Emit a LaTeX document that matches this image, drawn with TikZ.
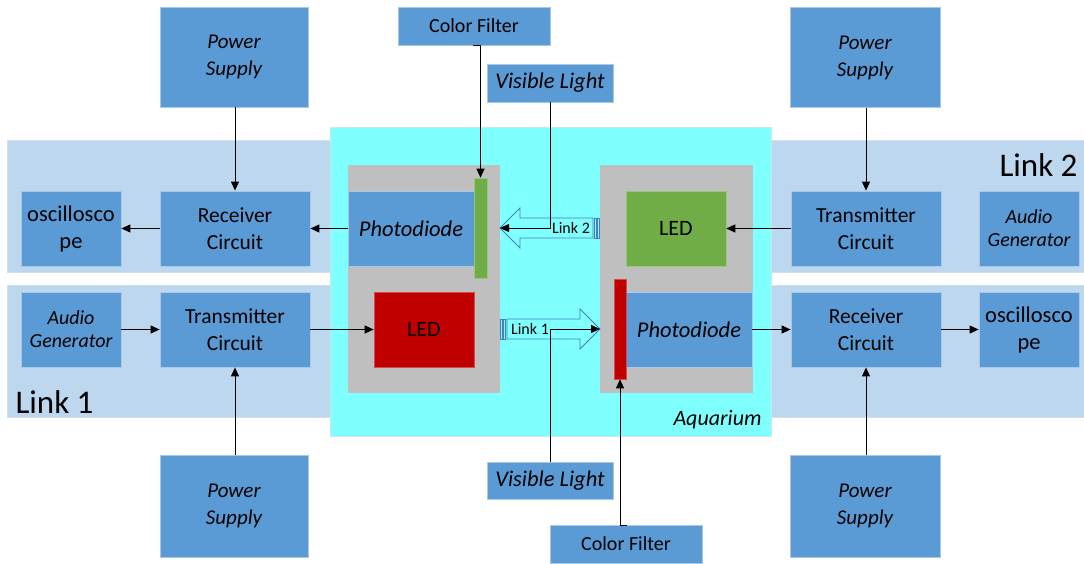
\documentclass[tikz,border=0pt]{standalone}
\usepackage{fontspec}
\setmainfont{Carlito}
\usetikzlibrary{arrows.meta}
\definecolor{cblue}{HTML}{5B9BD5}
\definecolor{cbord}{HTML}{A9C8E8}
\definecolor{cband}{HTML}{BDD7EE}
\definecolor{cbandb}{HTML}{D6E0EA}
\definecolor{caqua}{HTML}{80FFFF}
\definecolor{caquab}{HTML}{C8E8EE}
\definecolor{cgrey}{HTML}{BFBFBF}
\definecolor{cgreen}{HTML}{70AD47}
\definecolor{cred}{HTML}{C00000}
\definecolor{carrow}{HTML}{4A7EBB}
\begin{document}
\begin{tikzpicture}[x=1pt,y=-1pt,
  bbox/.style={fill=cblue, draw=cbord, line width=0.8pt, inner sep=0pt, align=center, text=black},
  band/.style={fill=cband, draw=cbandb, line width=0.8pt, inner sep=0pt},
  conn/.style={draw=black, line width=1pt, -{Triangle[length=9pt,width=8pt]}},
  hollow/.style={fill=caqua, draw=carrow, line width=0.8pt},
  fps/.style={font=\fontsize{21}{27}\selectfont\itshape},
  fcirc/.style={font=\fontsize{21.5}{26.5}\selectfont},
  fosc/.style={font=\fontsize{22.5}{27}\selectfont},
  fag/.style={font=\fontsize{20}{23}\selectfont\itshape},
  fcf/.style={font=\fontsize{20}{22}\selectfont},
  fvl/.style={font=\fontsize{22.5}{24}\selectfont\itshape},
  fpd/.style={font=\fontsize{22.5}{24}\selectfont\itshape},
  fled/.style={font=\fontsize{22}{24}\selectfont}
]
\useasboundingbox (0,0) rectangle (1084,563);
\fill[white] (0,0) rectangle (1084,563);

% bands
\node[band, minimum width=1080, minimum height=132, anchor=north west] (band2) at (7,140) {};
\node[band, minimum width=1080, minimum height=132, anchor=north west] (band1) at (7,285) {};
\node[anchor=base east, font=\fontsize{33}{36}\selectfont] (lab2) at (1081,176) {Link 2};
\node[anchor=base west, font=\fontsize{33}{36}\selectfont] (lab1) at (12,413) {Link 1};

% aquarium
\node[fill=caqua, draw=caquab, line width=0.8pt, minimum width=441, minimum height=309, anchor=north west, inner sep=0pt] (aq) at (330,127) {};
\node[anchor=base east, font=\fontsize{22}{24}\selectfont\itshape] (aqlab) at (765,425) {Aquarium};

% grey boxes
\node[fill=cgrey, draw=none, minimum width=152, minimum height=228, anchor=north west, inner sep=0pt] (greyL) at (348,165) {};
\node[fill=cgrey, draw=none, minimum width=153, minimum height=228, anchor=north west, inner sep=0pt] (greyR) at (600,165) {};

% inner boxes
\node[bbox, fpd, minimum width=126, minimum height=75] (pdL) at (411,228.5) {Photodiode};
\node[fill=cgreen, draw=cgreen!70!white, line width=0.6pt, minimum width=13, minimum height=100, inner sep=0pt] (gbar) at (480.5,228) {};
\node[fill=cred, draw=cred!70!white, line width=0.6pt, fled, minimum width=100, minimum height=75, inner sep=0pt] (ledL) at (424,329.5) {LED};
\node[fill=cgreen, draw=cgreen!70!white, line width=0.6pt, fled, minimum width=100, minimum height=75, inner sep=0pt] (ledR) at (676,228.5) {LED};
\node[bbox, fpd, minimum width=126, minimum height=75] (pdR) at (689,329.5) {Photodiode};
\node[fill=cred, draw=cred!70!white, line width=0.6pt, minimum width=12, minimum height=100, inner sep=0pt] (rbar) at (620,329) {};

% hollow arrows
\coordinate (l2tip) at (500,228);
\draw[hollow] (l2tip) -- (520,208) -- (520,218) -- (593,218) -- (593,238) -- (520,238) -- (520,248) -- cycle;
\draw[hollow] (594.5,218) rectangle (596.5,238);
\draw[hollow] (597.5,218) rectangle (599.5,238);
\node[font=\fontsize{16}{18}\selectfont] (l2txt) at (571,228) {Link 2};

\coordinate (l1tip) at (600,329);
\draw[hollow] (l1tip) -- (580,309) -- (580,319) -- (507,319) -- (507,339) -- (580,339) -- (580,349) -- cycle;
\draw[hollow] (500.5,319) rectangle (502.5,339);
\draw[hollow] (503.5,319) rectangle (505.5,339);
\node[font=\fontsize{16}{18}\selectfont] (l1txt) at (530,329) {Link 1};

% left outer blocks
\node[bbox, fps, minimum width=148, minimum height=100] (psTL) at (234,57) {Power\\Supply};
\node[bbox, fcirc, minimum width=150, minimum height=75] (rcL) at (235,228.5) {Receiver\\Circuit};
\node[bbox, fosc, minimum width=100, minimum height=75] (oscL) at (71,228.5) {oscillosco\\pe};
\node[bbox, fag, minimum width=100, minimum height=75] (agL) at (71,329.5) {Audio\\Generator};
\node[bbox, fcirc, minimum width=150, minimum height=75] (tcL) at (235,329.5) {Transmitter\\Circuit};
\node[bbox, fps, minimum width=148, minimum height=102] (psBL) at (234,506) {Power\\Supply};

% right outer blocks
\node[bbox, fps, minimum width=150, minimum height=100] (psTR) at (865,57.5) {Power\\Supply};
\node[bbox, fcirc, minimum width=150, minimum height=75] (tcR) at (866,228.5) {Transmitter\\Circuit};
\node[bbox, fag, minimum width=100, minimum height=75] (agR) at (1029,228.5) {Audio\\Generator};
\node[bbox, fcirc, minimum width=150, minimum height=75] (rcR) at (866,329.5) {Receiver\\Circuit};
\node[bbox, fosc, minimum width=100, minimum height=75] (oscR) at (1029,329.5) {oscillosco\\pe};
\node[bbox, fps, minimum width=150, minimum height=102] (psBR) at (865,506) {Power\\Supply};

% top / bottom filter and light boxes
\node[bbox, fcf, minimum width=152, minimum height=38] (cfT) at (474,26) {Color Filter};
\node[bbox, fvl, minimum width=126, minimum height=38] (vlT) at (550,83) {Visible Light};
\node[bbox, fvl, minimum width=126, minimum height=37] (vlB) at (550,480.5) {Visible Light};
\node[bbox, fcf, minimum width=152, minimum height=38] (cfB) at (626,544) {Color Filter};

% connectors left
\draw[conn] (psTL.south -| rcL.north) -- (rcL.north);
\draw[conn] (rcL.west) -- (oscL.east);
\draw[conn] (pdL.west) -- (rcL.east);
\draw[conn] (agL.east) -- (tcL.west);
\draw[conn] (tcL.east) -- (ledL.west);
\draw[conn] (psBL.north -| tcL.south) -- (tcL.south);

% connectors right
\draw[conn] (psTR.south -| tcR.north) -- (tcR.north);
\draw[conn] (tcR.west) -- (ledR.east);
\draw[conn] (pdR.east) -- (rcR.west);
\draw[conn] (rcR.east) -- (oscR.west);
\draw[conn] (psBR.north -| rcR.south) -- (rcR.south);

% filter and light connectors
\coordinate (cft) at (473,45);
\draw[conn] (cft) -- (cft -| gbar.north) -- (gbar.north);
\draw[conn] (vlT.south) |- (l2tip);
\coordinate (cfb) at (627,525);
\draw[conn] (cfb) -- (cfb -| rbar.south) -- (rbar.south);
\draw[conn] (vlB.north) |- (l1tip);
\end{tikzpicture}
\end{document}
